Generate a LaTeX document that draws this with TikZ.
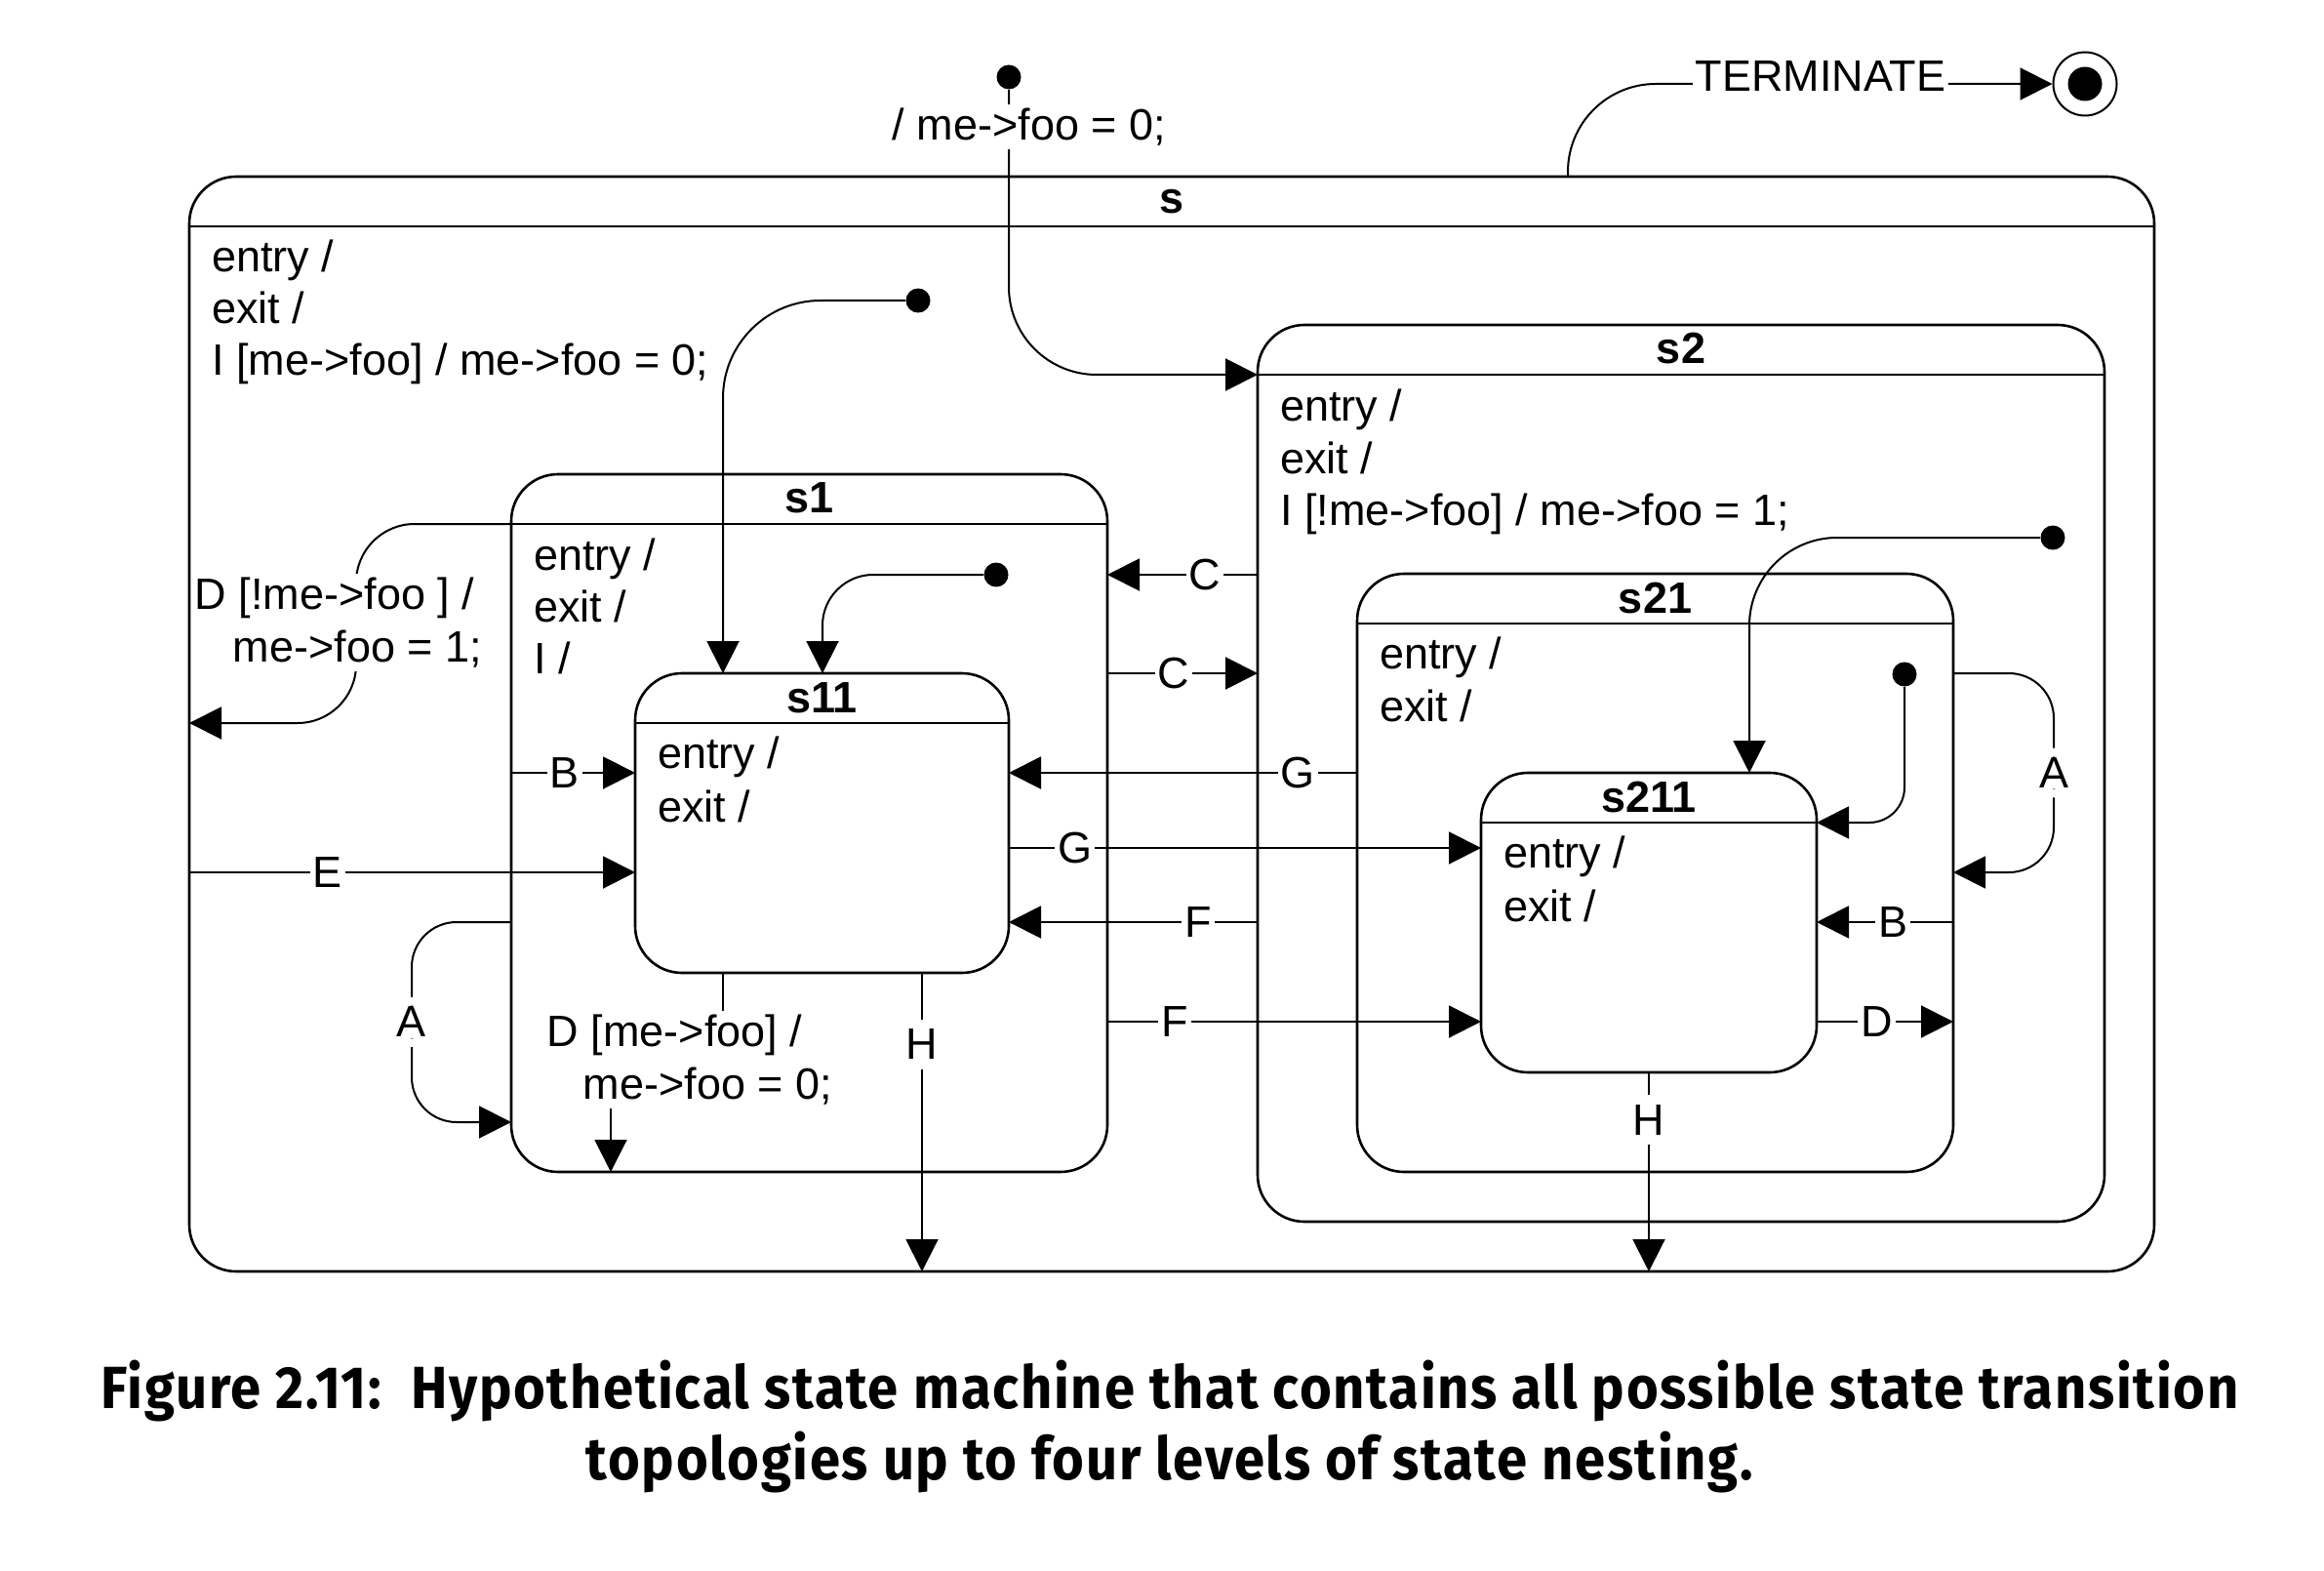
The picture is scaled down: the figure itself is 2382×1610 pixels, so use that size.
\documentclass[tikz,border=0pt]{standalone}
\usepackage{fontspec}
\setmainfont{Liberation Sans}
\newfontfamily\capfont{Fira Sans}[LetterSpace=3]
\usetikzlibrary{arrows.meta}
\newcommand\diagfont{\fontsize{22.5}{27}\selectfont}
\begin{document}
\begin{tikzpicture}[x=0.5pt,y=-0.5pt,
  every node/.style={font=\diagfont},
  state/.style={draw, line width=1.3pt, rounded corners=24pt, inner sep=0pt, outer sep=0pt},
  hdr/.style={draw, line width=1.3pt},
  title/.style={font=\diagfont\bfseries, anchor=base, inner sep=0pt},
  txt/.style={anchor=base west, inner sep=0pt},
  tr/.style={draw, line width=1pt, -{Triangle[length=16.5pt,width=16.5pt]}},
  lbl/.style={fill=white, inner xsep=1.5pt, inner ysep=2pt},
  lblv/.style={fill=white, inner xsep=2pt, inner ysep=5pt},
  dot/.style={circle, fill, inner sep=0pt, minimum size=12.5pt}]
\useasboundingbox (0,0) rectangle (2382,1610);
% states
\node[state, minimum width=1007pt, minimum height=561pt] (s) at (1201,742) {};
\node[state, minimum width=305.5pt, minimum height=357.5pt] (s1) at (829.5,843.5) {};
\node[state, minimum width=191.5pt, minimum height=153.5pt] (s11) at (842.5,843.5) {};
\node[state, minimum width=434pt, minimum height=459.5pt] (s2) at (1723,792.5) {};
\node[state, minimum width=305.5pt, minimum height=306.5pt] (s21) at (1696.5,894.5) {};
\node[state, minimum width=172pt, minimum height=153.5pt] (s211) at (1690,945.5) {};
% header lines
\draw[hdr] (s.west |- 0,232) -- (s.east |- 0,232);
\draw[hdr] (s1.west |- 0,537) -- (s1.east |- 0,537);
\draw[hdr] (s11.west |- 0,741) -- (s11.east |- 0,741);
\draw[hdr] (s2.west |- 0,384) -- (s2.east |- 0,384);
\draw[hdr] (s21.west |- 0,639) -- (s21.east |- 0,639);
\draw[hdr] (s211.west |- 0,843) -- (s211.east |- 0,843);
% titles
\node[title] (ts) at (1201,219) {s};
\node[title] (ts1) at (829.5,525) {s1};
\node[title] (ts11) at (842.5,730) {s11};
\node[title] (ts2) at (1723,373) {s2};
\node[title] (ts21) at (1696.5,628) {s21};
\node[title] (ts211) at (1690,832) {s211};
% internal texts
\node[txt] (s-a) at (217,279) {entry /};
\node[txt] (s-b) at (217,332) {exit /};
\node[txt] (s-c) at (217,385) {I [me->foo] / me->foo = 0;};
\node[txt] (s1-a) at (547,584) {entry /};
\node[txt] (s1-b) at (547,637) {exit /};
\node[txt] (s1-c) at (547,690) {I /};
\node[txt] (s11-a) at (674,787) {entry /};
\node[txt] (s11-b) at (674,842) {exit /};
\node[txt] (s2-a) at (1312,431) {entry /};
\node[txt] (s2-b) at (1312,485) {exit /};
\node[txt] (s2-c) at (1312,538) {I [!me->foo] / me->foo = 1;};
\node[txt] (s21-a) at (1414,685) {entry /};
\node[txt] (s21-b) at (1414,739) {exit /};
\node[txt] (s211-a) at (1541,889) {entry /};
\node[txt] (s211-b) at (1541,944) {exit /};
% initial pseudostates
\node[dot] (i0) at (1034,79) {};
\node[dot] (i1) at (941,308) {};
\node[dot] (i11) at (1021,589) {};
\node[dot] (i21) at (2104,551) {};
\node[dot] (i211) at (1952,691) {};
% final state
\node[circle, draw, line width=1pt, inner sep=0pt, minimum size=32.5pt] (fin) at (2137,86) {};
\node[circle, fill, inner sep=0pt, minimum size=17.5pt] (fin-in) at (fin) {};
% top-level initial transition
\draw[tr, rounded corners=45pt] (i0) |- (s2.west |- 0,384);
\node[lbl] (l0) at (1055,130) {/ me->foo = 0;};
% TERMINATE
\draw[tr, rounded corners=45pt] (s.north -| 1607,0) |- (fin.west);
\node[lbl] (lterm) at (1866,78) {TERMINATE};
% initial transitions
\draw[tr, rounded corners=50pt] (i1) -| (s11.north -| 741,0);
\draw[tr, rounded corners=26pt] (i11) -| (s11.north -| 843,0);
\draw[tr, rounded corners=45pt] (i21) -| (s211.north -| 1793,0);
\draw[tr, rounded corners=18pt] (i211) |- (s211.east |- 0,843);
% C, G, F, B, E, D
\draw[tr] (s2.west |- 0,589) -- node[lbl,pos=0.35] (lC1) {C} (s1.east |- 0,589);
\draw[tr] (s1.east |- 0,690) -- node[lbl,pos=0.44] (lC2) {C} (s2.west |- 0,690);
\draw[tr] (s21.west |- 0,792) -- node[lbl,pos=0.17] (lG1) {G} (s11.east |- 0,792);
\draw[tr] (s11.east |- 0,869) -- node[lbl,pos=0.14] (lG2) {G} (s211.west |- 0,869);
\draw[tr] (s2.west |- 0,945) -- node[lbl,pos=0.24] (lF1) {F} (s11.east |- 0,945);
\draw[tr] (s1.east |- 0,1047) -- node[lbl,pos=0.18] (lF2) {F} (s211.west |- 0,1047);
\draw[tr] (s1.west |- 0,792) -- node[lbl,pos=0.43] (lB1) {B} (s11.west |- 0,792);
\draw[tr] (s.west |- 0,894) -- node[lbl,pos=0.31] (lE) {E} (s11.west |- 0,894);
\draw[tr] (s21.east |- 0,945) -- node[lbl,pos=0.44] (lB2) {B} (s211.east |- 0,945);
\draw[tr] (s211.east |- 0,1047) -- node[lbl,pos=0.44] (lD2) {D} (s21.east |- 0,1047);
% A self transitions
\draw[tr, rounded corners=23pt] (s1.west |- 0,945) -- ++(-102,0) -- node[lblv] (lA1) {A} ++(0,205) -- (s1.west |- 0,1150);
\draw[tr, rounded corners=23pt] (s21.east |- 0,690) -- ++(103,0) -- node[lblv] (lA2) {A} ++(0,204) -- (s21.east |- 0,894);
% H transitions
\draw[tr] (s11.south -| 945,0) -- node[lblv,pos=0.24] (lH1) {H} (s.south -| 945,0);
\draw[tr] (s211.south) -- node[lblv,pos=0.24] (lH2) {H} (s.south -| s211.south);
% D [!me->foo]
\draw[tr, rounded corners=30pt] (s1.west |- 0,537) -| ++(-159,204) -- (s.west |- 0,741);
\node[lbl, align=left] (lD1) at (347,638) {D [!me->foo ] /\\\hspace*{19.5pt}me->foo = 1;};
% D [me->foo]
\draw[tr] (s11.south -| 741,0) |- (626,1086) -- (s1.south -| 626,0);
\node[lbl, align=left] (lD3) at (707,1086) {D [me->foo] /\\\hspace*{18.5pt}me->foo = 0;};
% caption
\node[inner sep=0pt, anchor=base] (cap) at (1199,1516) {\resizebox{1095.5pt}{62.05pt}{\capfont\bfseries\fontsize{30.5}{36.5}\selectfont\begin{tabular}[b]{@{}c@{}}Figure 2.11:\ \ Hypothetical state machine that contains all possible state transition\\ topologies up to four levels of state nesting.\end{tabular}}};
\end{tikzpicture}
\end{document}
